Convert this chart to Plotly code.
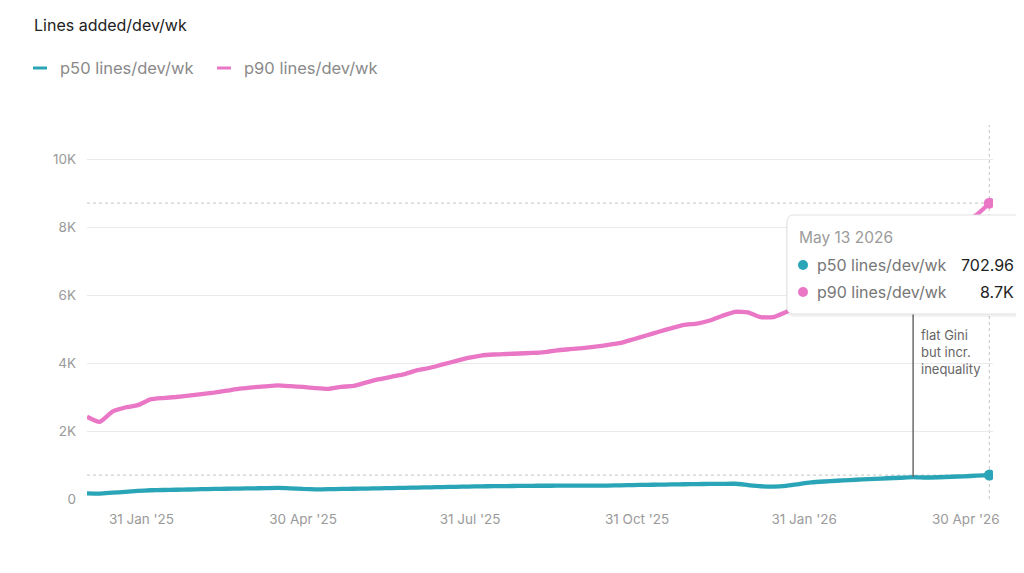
import pandas as pd
import plotly.graph_objects as go

# weekly samples, Wed 1 Jan 2025 .. Wed 13 May 2026
dates = pd.date_range('2025-01-01', '2026-05-13', freq='7D')

p50 = [165, 160, 185, 210, 238, 257, 265, 272, 280, 288, 295, 301,
       307, 313, 319, 325, 315, 295, 285, 288, 296, 302, 308, 315,
       322, 329, 336, 343, 350, 358, 366, 373, 377, 381, 384, 388,
       390, 391, 392, 393, 394, 396, 403, 410, 416, 422, 428, 434,
       439, 443, 447, 448, 410, 375, 362, 385, 440, 488, 515, 537,
       558, 575, 592, 610, 625, 645, 632, 640, 655, 668, 685, 702.96]

p90 = [2420, 2270, 2570, 2690, 2760, 2930, 2970, 3000, 3040, 3085, 3130, 3185,
       3245, 3285, 3310, 3340, 3320, 3295, 3260, 3240, 3300, 3325, 3430, 3525,
       3600, 3675, 3790, 3860, 3960, 4055, 4150, 4220, 4250, 4265, 4280, 4295,
       4320, 4370, 4405, 4440, 4480, 4530, 4590, 4700, 4810, 4920, 5025, 5120,
       5160, 5250, 5390, 5505, 5490, 5350, 5350, 5500, 5650, 5800, 5950, 6120,
       6300, 6480, 6650, 6820, 7000, 7200, 7420, 7650, 7900, 8120, 8360, 8700]

names = ['p50 lines/dev/wk', 'p90 lines/dev/wk']
colors = ['#2aa5b8', '#ea76c6']
series = [p50, p90]

tick_dates = ['2025-01-31', '2025-04-30', '2025-07-31', '2025-10-31', '2026-01-31', '2026-04-30']
y_ticks = [0, 2000, 4000, 6000, 8000, 10000]
y_labels = ['0', '2K', '4K', '6K', '8K', '10K']

note_date = '2026-04-01'
note_text = 'flat Gini<br>but incr.<br>inequality'

# page has an 8px body margin, so the figure is a bit smaller than the window
OFF = 8
W, H = 1024 - OFF, 573 - OFF
L, R, T, B = 87, 31, 125, 74  # in window pixels
FONT = 'Inter, Noto Sans, sans-serif'
PW, PH = 1024 - L - R, 573 - T - B


def px(x):
    return (x - L) / PW


def py(y):
    return (573 - B - y) / PH


def rounded_box(x0, x1, y0, y1, r):
    return (f'M {px(x0 + r)} {py(y0)} L {px(x1 - r)} {py(y0)} '
            f'Q {px(x1)} {py(y0)} {px(x1)} {py(y0 + r)} L {px(x1)} {py(y1 - r)} '
            f'Q {px(x1)} {py(y1)} {px(x1 - r)} {py(y1)} L {px(x0 + r)} {py(y1)} '
            f'Q {px(x0)} {py(y1)} {px(x0)} {py(y1 - r)} L {px(x0)} {py(y0 + r)} '
            f'Q {px(x0)} {py(y0)} {px(x0 + r)} {py(y0)} Z')


fig = go.Figure()
for vals, name, col in zip(series, names, colors):
    fig.add_trace(go.Scatter(x=dates, y=vals, mode='lines', name=name,
                             line=dict(color=col, width=4.3, shape='spline', smoothing=0.5),
                             hoverinfo='skip'))
    fig.add_trace(go.Scatter(x=[dates[-1]], y=[vals[-1]], mode='markers',
                             marker=dict(color=col, size=11), hoverinfo='skip'))

shapes = []
# crosshair at last point
last = dates[-1]
dot = dict(color='#cfcfcf', width=1.2, dash='dot')
shapes.append(dict(type='line', xref='x', yref='paper', x0=last, x1=last, y0=0, y1=1,
                   line=dot, layer='below'))
for vals in series:
    shapes.append(dict(type='line', xref='paper', yref='y', x0=0, x1=px(990),
                       y0=vals[-1], y1=vals[-1], line=dot, layer='below'))

# annotation stem
ni = list(dates).index(pd.Timestamp(note_date))
shapes.append(dict(type='line', xref='x', yref='y', x0=note_date, x1=note_date,
                   y0=p50[ni], y1=5600, line=dict(color='#6b6b6b', width=1.5), layer='above'))

# tooltip box (rounded, faint shadow)
shapes.append(dict(type='path', xref='paper', yref='paper',
                   path=rounded_box(786, 1024, 216, 317, 8),
                   fillcolor='rgba(0,0,0,0.05)', line=dict(width=0), layer='above'))
shapes.append(dict(type='path', xref='paper', yref='paper',
                   path=rounded_box(787, 1022, 215, 314, 7),
                   fillcolor='white', line=dict(color='#e2e2e2', width=1), layer='above'))
for k, col in enumerate(colors):
    cy = 265 + 27 * k
    shapes.append(dict(type='circle', xref='paper', yref='paper',
                       x0=px(798), x1=px(808), y0=py(cy + 5), y1=py(cy - 5),
                       fillcolor=col, line=dict(width=0), layer='above'))

# legend swatches
leg_x = [33, 217]
for lx, col in zip(leg_x, colors):
    shapes.append(dict(type='line', xref='paper', yref='paper', x0=px(lx), x1=px(lx + 14),
                       y0=py(68), y1=py(68), line=dict(color=col, width=3)))

annotations = [
    dict(text='Lines added/dev/wk', xref='paper', yref='paper', x=px(32), y=py(25),
         xanchor='left', yanchor='middle', showarrow=False,
         font=dict(family=FONT, size=16, color='#222222')),
    dict(text=note_text, xref='paper', yref='paper', x=px(919), y=py(352),
         xanchor='left', yanchor='middle', align='left', showarrow=False,
         font=dict(family=FONT, size=13, color='#666666')),
    dict(text=last.strftime('%b %d %Y').replace(' 0', ' '), xref='paper', yref='paper',
         x=px(797), y=py(237), xanchor='left', yanchor='middle', showarrow=False,
         font=dict(family=FONT, size=15.5, color='#9b9b9b')),
]
for lx, name in zip(leg_x, names):
    annotations.append(dict(text=name, xref='paper', yref='paper', x=px(lx + 25), y=py(68),
                            xanchor='left', yanchor='middle', showarrow=False,
                            font=dict(family=FONT, size=16.5, color='#8a8a8a')))
tip_vals = [f'{p50[-1]:.2f}', f'{p90[-1] / 1000:.1f}K']
for k, (name, v) in enumerate(zip(names, tip_vals)):
    cy = 265 + 27 * k
    annotations.append(dict(text=name, xref='paper', yref='paper', x=px(815), y=py(cy),
                            xanchor='left', yanchor='middle', showarrow=False,
                            font=dict(family=FONT, size=16, color='#777777')))
    annotations.append(dict(text=v, xref='paper', yref='paper', x=px(1016), y=py(cy),
                            xanchor='right', yanchor='middle', showarrow=False,
                            font=dict(family=FONT, size=16, color='#222222')))

fig.update_layout(
    width=W, height=H,
    margin=dict(l=L - OFF, r=R, t=T - OFF, b=B),
    paper_bgcolor='white', plot_bgcolor='white',
    showlegend=False,
    font=dict(family=FONT, color='#9a9a9a', size=13),
    shapes=shapes,
    annotations=annotations,
    xaxis=dict(range=['2025-01-01', '2026-05-15'], tickvals=tick_dates,
               tickformat="%d %b '%y", showgrid=False, zeroline=False, showline=False,
               ticks='', ticklabelstandoff=10, tickfont=dict(size=13.5, color='#9a9a9a')),
    yaxis=dict(range=[0, 11000], tickvals=y_ticks, ticktext=y_labels,
               gridcolor='#ebebeb', gridwidth=1, zeroline=False, showline=False,
               ticks='', ticklabelstandoff=10, tickfont=dict(size=13.5, color='#9a9a9a')),
)

fig.write_html('out.html')
